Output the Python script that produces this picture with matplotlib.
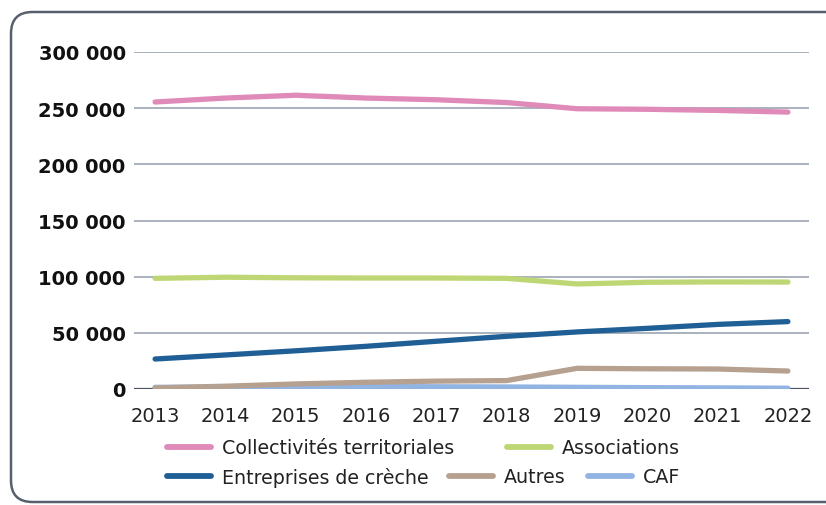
import matplotlib.pyplot as plt
import numpy as np
from matplotlib.patches import FancyBboxPatch
from matplotlib.ticker import MultipleLocator, FuncFormatter

# années
years = [2013, 2014, 2015, 2016, 2017, 2018, 2019, 2020, 2021, 2022]
# valeurs
collectivites = [255500, 259000, 261500, 259000, 257500, 255000, 249500, 249000, 248000, 246500]
associations = [98500, 99500, 99000, 98800, 98800, 98500, 93500, 95000, 95300, 95200]
entreprises = [26700, 30300, 34000, 38000, 42500, 46900, 50800, 54000, 57500, 60000]
autres = [1000, 2500, 4500, 6000, 7000, 7500, 18400, 18000, 17800, 16000]
caf = [1500, 1700, 2000, 2200, 2000, 1800, 1500, 1200, 1000, 700]

series = [
    ('Collectivités territoriales', collectivites, '#df8ab8'),
    ('Associations', associations, '#bed774'),
    ('Entreprises de crèche', entreprises, '#1f5f96'),
    ('Autres', autres, '#b6a190'),
    ('CAF', caf, '#92b4e2'),
]
# ordre de tracé (CAF sous Autres)
draw_order = [4, 3, 2, 1, 0]

W, H = 826, 506
fig = plt.figure(figsize=(W / 100, H / 100), dpi=100)

# cadre arrondi
frame = FancyBboxPatch((11 / W, 3 / H), 850 / W, 490 / H,
                       boxstyle='round,pad=0,rounding_size=0.026',
                       transform=fig.transFigure, facecolor='none',
                       edgecolor='#58606e', linewidth=1.8, zorder=-1,
                       mutation_aspect=W / H)
fig.patches.append(frame)

ax = fig.add_axes([134 / W, 1 - 390 / H, (809 - 134) / W, (390 - 53) / H])
ax.patch.set_alpha(0)

lines = {}
for i in draw_order:
    name, vals, col = series[i]
    ln, = ax.plot(years, vals, color=col, linewidth=3.8, solid_capstyle='round',
                  solid_joinstyle='round', label=name, zorder=3)
    lines[i] = ln

ax.set_ylim(0, 300000)
ax.set_xlim(2012.7, 2022.3)
ax.yaxis.set_major_locator(MultipleLocator(50000))
ax.yaxis.set_major_formatter(FuncFormatter(lambda v, p: f'{int(v):,}'.replace(',', ' ')))
ax.set_xticks(years)
ax.grid(axis='y', color='#a3abb8', linewidth=1.3, zorder=1)
ax.axhline(0, color='#4a5262', linewidth=1.6, zorder=2)
for s in ax.spines.values():
    s.set_visible(False)
ax.tick_params(axis='both', length=0)
ax.tick_params(axis='y', pad=6)
ax.tick_params(axis='x', pad=12)
for lab in ax.get_yticklabels():
    lab.set_fontfamily('DejaVu Sans')
    lab.set_fontweight('bold')
    lab.set_fontsize(14)
    lab.set_color('#111111')
for lab in ax.get_xticklabels():
    lab.set_fontfamily('DejaVu Sans')
    lab.set_fontsize(14)
    lab.set_color('#222222')

# légende : une entrée par position
legend_pos = [(167, 449), (507, 449), (167, 478), (449, 478), (588, 478)]
for i, (px, py) in enumerate(legend_pos):
    leg = fig.legend(handles=[lines[i]], loc='center left',
                     bbox_to_anchor=(px / W, 1 - py / H), frameon=False,
                     borderpad=0, borderaxespad=0, handlelength=2.3,
                     handletextpad=0.6, prop={'family': 'DejaVu Sans', 'size': 13.7})
    for t in leg.get_texts():
        t.set_color('#222222')
    for h in leg.legend_handles:
        h.set_linewidth(4.2)

fig.savefig('out.png', dpi=100)
